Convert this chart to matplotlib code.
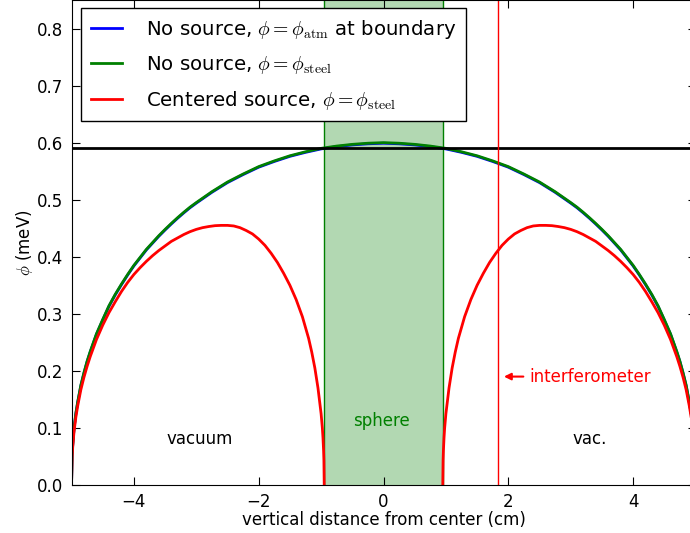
import matplotlib
matplotlib.use("Agg")
import matplotlib.pyplot as plt

plt.rcParams["mathtext.fontset"] = "cm"
plt.rcParams["font.family"] = ["DejaVu Sans"]

# Field profile without a source (symmetric about the sphere centre)
x_free = [-5.0, -4.99, -4.98, -4.96, -4.95, -4.93, -4.9, -4.85, -4.8, -4.75,
          -4.7, -4.6, -4.5, -4.4, -4.3, -4.2, -4.1, -4.0, -3.9, -3.8, -3.7,
          -3.6, -3.5, -3.4, -3.3, -3.2, -3.1, -3.0, -2.75, -2.5, -2.25, -2.0,
          -1.75, -1.5, -1.25, -1.0, -0.75, -0.5, -0.25, 0.0,
          0.25, 0.5, 0.75, 1.0, 1.25, 1.5, 1.75, 2.0, 2.25, 2.5, 2.75, 3.0,
          3.1, 3.2, 3.3, 3.4, 3.5, 3.6, 3.7, 3.8, 3.9, 4.0, 4.1, 4.2, 4.3,
          4.4, 4.5, 4.6, 4.7, 4.75, 4.8, 4.85, 4.9, 4.93, 4.95, 4.96, 4.98,
          4.99, 5.0]
phi_steel = [0.0, 0.054, 0.072, 0.099, 0.108, 0.126, 0.146, 0.175, 0.197,
             0.217, 0.234, 0.265, 0.290, 0.314, 0.334, 0.352, 0.369, 0.385,
             0.399, 0.413, 0.425, 0.437, 0.448, 0.4585, 0.4685, 0.478, 0.487,
             0.495, 0.514, 0.531, 0.545, 0.558, 0.568, 0.577, 0.584, 0.590,
             0.594, 0.597, 0.599, 0.600,
             0.599, 0.597, 0.594, 0.590, 0.584, 0.577, 0.568, 0.558, 0.545,
             0.531, 0.514, 0.495, 0.487, 0.478, 0.4685, 0.4585, 0.448, 0.437,
             0.425, 0.413, 0.399, 0.385, 0.369, 0.352, 0.334, 0.314, 0.290,
             0.265, 0.234, 0.217, 0.197, 0.175, 0.146, 0.126, 0.108, 0.099,
             0.072, 0.054, 0.0]
phi_atm = [0.0, 0.053, 0.071, 0.098, 0.107, 0.125, 0.145, 0.174, 0.196,
           0.216, 0.233, 0.264, 0.289, 0.313, 0.333, 0.351, 0.368, 0.384,
           0.398, 0.412, 0.424, 0.436, 0.447, 0.4575, 0.4675, 0.477, 0.486,
           0.494, 0.513, 0.530, 0.544, 0.557, 0.567, 0.576, 0.583, 0.589,
           0.593, 0.596, 0.598, 0.599,
           0.598, 0.596, 0.593, 0.589, 0.583, 0.576, 0.567, 0.557, 0.544,
           0.530, 0.513, 0.494, 0.486, 0.477, 0.4675, 0.4575, 0.447, 0.436,
           0.424, 0.412, 0.398, 0.384, 0.368, 0.351, 0.333, 0.313, 0.289,
           0.264, 0.233, 0.216, 0.196, 0.174, 0.145, 0.125, 0.107, 0.098,
           0.071, 0.053, 0.0]

# Field profile with a centred source: one lobe in each vacuum gap
x_src_left = [-5.0, -4.99, -4.98, -4.96, -4.93, -4.9, -4.85, -4.8, -4.75,
              -4.7, -4.6, -4.5, -4.4, -4.3, -4.2, -4.1, -4.0, -3.9, -3.8,
              -3.7, -3.6, -3.5, -3.4, -3.3, -3.2, -3.1, -3.0, -2.9, -2.8,
              -2.7, -2.6, -2.5, -2.4, -2.3, -2.2, -2.1, -2.0, -1.9, -1.8,
              -1.7, -1.6, -1.5, -1.4, -1.3, -1.2, -1.15, -1.1, -1.05, -1.0,
              -0.98, -0.97, -0.96, -0.955, -0.95]
phi_src_left = [0.0, 0.050, 0.067, 0.093, 0.119, 0.139, 0.167, 0.189, 0.208,
                0.225, 0.255, 0.280, 0.302, 0.321, 0.339, 0.355, 0.369,
                0.381, 0.392, 0.402, 0.411, 0.419, 0.427, 0.433, 0.439,
                0.444, 0.448, 0.451, 0.453, 0.4545, 0.455, 0.455, 0.454,
                0.451, 0.446, 0.440, 0.431, 0.420, 0.406, 0.390, 0.371,
                0.350, 0.325, 0.295, 0.257, 0.233, 0.205, 0.170, 0.125,
                0.100, 0.083, 0.060, 0.043, 0.0]
x_src_right = [0.95, 0.955, 0.96, 0.97, 0.98, 1.0, 1.05, 1.1, 1.15, 1.2, 1.3,
               1.4, 1.5, 1.6, 1.7, 1.8, 1.9, 2.0, 2.1, 2.2, 2.3, 2.4, 2.5,
               2.6, 2.7, 2.8, 2.9, 3.0, 3.1, 3.2, 3.3, 3.4, 3.5, 3.6, 3.7,
               3.8, 3.9, 4.0, 4.1, 4.2, 4.3, 4.4, 4.5, 4.6, 4.7, 4.75, 4.8,
               4.85, 4.9, 4.93, 4.96, 4.98, 4.99, 5.0]
phi_src_right = [0.0, 0.043, 0.060, 0.083, 0.100, 0.125, 0.170, 0.205, 0.233,
                 0.257, 0.295, 0.325, 0.350, 0.371, 0.390, 0.406, 0.420,
                 0.431, 0.440, 0.446, 0.451, 0.454, 0.455, 0.455, 0.4545,
                 0.453, 0.451, 0.448, 0.444, 0.439, 0.433, 0.427, 0.419,
                 0.411, 0.402, 0.392, 0.381, 0.369, 0.355, 0.339, 0.321,
                 0.302, 0.280, 0.255, 0.225, 0.208, 0.189, 0.167, 0.139,
                 0.119, 0.093, 0.067, 0.050, 0.0]

sphere_radius = 0.95
phi_level = 0.59
interferometer_x = 1.84

fig = plt.figure(figsize=(6.9, 5.33), dpi=100)
ax = fig.add_axes([71.5 / 690, 48 / 533, 624 / 690, 485 / 533])

ax.axvspan(-sphere_radius, sphere_radius, facecolor="green", alpha=0.3,
           edgecolor="none")
ax.axvline(-sphere_radius, color="green", lw=1)
ax.axvline(sphere_radius, color="green", lw=1)

ax.plot(x_free, phi_atm, color="blue", lw=2,
        label=r"No source, $\phi = \phi_{\rm atm}$ at boundary")
ax.plot(x_free, phi_steel, color="green", lw=2,
        label=r"No source, $\phi = \phi_{\rm steel}$")
ax.plot(x_src_left, phi_src_left, color="red", lw=2,
        label=r"Centered source, $\phi = \phi_{\rm steel}$")
ax.plot(x_src_right, phi_src_right, color="red", lw=2)

ax.axhline(phi_level, color="black", lw=2)
ax.axvline(interferometer_x, color="red", lw=1)

ax.text(-2.95, 0.08, "vacuum", ha="center", va="center", fontsize=12)
ax.text(3.3, 0.08, "vac.", ha="center", va="center", fontsize=12)
ax.text(-0.03, 0.112, "sphere", ha="center", va="center", fontsize=12,
        color="green")
ax.annotate("interferometer", xy=(1.93, 0.19), xytext=(2.33, 0.19),
            color="red", fontsize=12, va="center", ha="left",
            arrowprops=dict(arrowstyle="-|>", color="red", lw=1.5,
                            shrinkA=2, shrinkB=0, mutation_scale=10))

ax.set_xlim(-5, 5)
ax.set_ylim(0, 0.85)
ax.set_xticks([-4, -2, 0, 2, 4])
ax.set_xticklabels(["\u22124", "\u22122", "0", "2", "4"])
ax.set_yticks([0.0, 0.1, 0.2, 0.3, 0.4, 0.5, 0.6, 0.7, 0.8])
ax.tick_params(direction="in", top=True, right=True, labelsize=12,
               length=6, pad=6)
ax.set_xlabel("vertical distance from center (cm)", fontsize=12, labelpad=0)
ax.set_ylabel(r"$\phi$ (meV)", fontsize=12, labelpad=1)

leg = ax.legend(loc="upper left", bbox_to_anchor=(0.0152, 0.9835),
                fontsize=14.2, fancybox=False, edgecolor="black",
                framealpha=1, handlelength=1.6, borderaxespad=0,
                handletextpad=1.2, labelspacing=0.65, borderpad=0.5)
leg.get_frame().set_linewidth(1)

fig.savefig("out.png", dpi=100)
